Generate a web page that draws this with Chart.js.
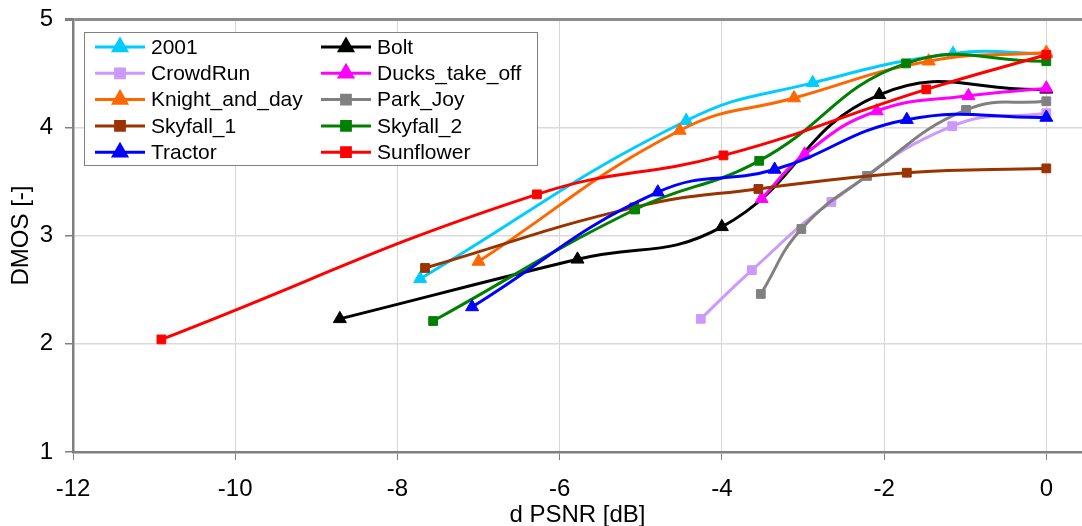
<!DOCTYPE html>
<html>
<head>
<meta charset="utf-8">
<title>DMOS vs d PSNR</title>
<script src="https://cdn.jsdelivr.net/npm/chart.js@4.4.1/dist/chart.umd.min.js"></script>
<style>
  html, body { margin: 0; padding: 0; background: #fff; }
  #wrap { width: 1082px; height: 526px; }
</style>
</head>
<body>
<div id="wrap"><canvas id="grafico" width="1082" height="526"></canvas></div>
<script>
// sequences (legend order)
const nomes = ["2001", "Bolt", "CrowdRun", "Ducks_take_off", "Knight_and_day",
               "Park_Joy", "Skyfall_1", "Skyfall_2", "Tractor", "Sunflower"];
const cores = ["#00ccff", "#000000", "#cc99ff", "#ff00ff", "#ff6600",
               "#808080", "#993300", "#008000", "#0000ff", "#ff0000"];
const marcadores = ["triangle", "triangle", "rect", "triangle", "triangle",
                    "rect", "rect", "rect", "triangle", "rect"];

// d PSNR [dB] per sequence
const psnr2001 = [-7.72, -4.44, -2.88, -1.15, 0];
const psnrBolt = [-8.71, -5.78, -4.0, -2.06, 0];
const psnrCrowdRun = [-4.26, -3.63, -2.65, -1.16, 0];
const psnrDucks = [-3.51, -2.98, -2.09, -0.96, 0];
const psnrKnight = [-7.0, -4.52, -3.11, -1.45, 0];
const psnrParkJoy = [-3.52, -3.02, -2.21, -0.99, 0];
const psnrSkyfall1 = [-7.66, -5.08, -3.55, -1.72, 0];
const psnrSkyfall2 = [-7.56, -5.07, -3.54, -1.73, 0];
const psnrTractor = [-7.08, -4.79, -3.35, -1.72, 0];
const psnrSunflower = [-10.91, -6.28, -3.98, -1.48, 0];

// DMOS per sequence
const dmos2001 = [2.60, 4.06, 4.41, 4.68, 4.68];
const dmosBolt = [2.23, 2.78, 3.08, 4.30, 4.35];
const dmosCrowdRun = [2.23, 2.68, 3.31, 4.01, 4.13];
const dmosDucks = [3.34, 3.75, 4.15, 4.29, 4.36];
const dmosKnight = [2.76, 3.97, 4.27, 4.61, 4.69];
const dmosParkJoy = [2.46, 3.06, 3.55, 4.16, 4.24];
const dmosSkyfall1 = [2.70, 3.26, 3.43, 3.58, 3.62];
const dmosSkyfall2 = [2.21, 3.24, 3.69, 4.59, 4.61];
const dmosTractor = [2.34, 3.40, 3.61, 4.07, 4.09];
const dmosSunflower = [2.04, 3.38, 3.74, 4.35, 4.67];

const eixoX = [-12, -10, -8, -6, -4, -2, 0];
const eixoY = [1, 2, 3, 4, 5];

const todosX = [psnr2001, psnrBolt, psnrCrowdRun, psnrDucks, psnrKnight,
                psnrParkJoy, psnrSkyfall1, psnrSkyfall2, psnrTractor, psnrSunflower];
const todosY = [dmos2001, dmosBolt, dmosCrowdRun, dmosDucks, dmosKnight,
                dmosParkJoy, dmosSkyfall1, dmosSkyfall2, dmosTractor, dmosSunflower];

const fonte = "'Liberation Sans', Arial, sans-serif";

const datasets = nomes.map((nome, i) => ({
    label: nome,
    data: todosX[i].map((x, k) => ({ x: x, y: todosY[i][k] })),
    showLine: true,
    borderColor: cores[i],
    backgroundColor: cores[i],
    borderWidth: 3,
    tension: 0.45,
    pointStyle: marcadores[i],
    pointRadius: marcadores[i] === "triangle" ? 7.5 : 6.2,
    pointBorderWidth: 1,
    // last series on top, like the spreadsheet
    order: nomes.length - i
}));

// two-column legend box in the upper left corner
const legendaCaixa = {
    id: "legendaCaixa",
    afterDraw(chart) {
        const ctx = chart.ctx;
        ctx.save();
        ctx.fillStyle = "#ffffff";
        ctx.fillRect(84.5, 32.5, 453, 133);
        ctx.strokeStyle = "#808080";
        ctx.lineWidth = 1;
        ctx.strokeRect(84.5, 32.5, 453, 133);
        ctx.font = "21px " + fonte;
        ctx.textBaseline = "middle";
        nomes.forEach((nome, i) => {
            const col = i % 2;
            const lin = Math.floor(i / 2);
            const x0 = col === 0 ? 95 : 321;
            const y = 47 + lin * 26.3;
            ctx.strokeStyle = cores[i];
            ctx.lineWidth = 3;
            ctx.beginPath();
            ctx.moveTo(x0, y);
            ctx.lineTo(x0 + 50, y);
            ctx.stroke();
            ctx.fillStyle = cores[i];
            Chart.helpers.drawPoint(ctx, {
                pointStyle: marcadores[i],
                radius: marcadores[i] === "triangle" ? 7.5 : 6.2,
                rotation: 0,
                borderWidth: 1
            }, x0 + 25, y);
            ctx.fillStyle = "#000000";
            ctx.fillText(nome, x0 + 56, y + 1);
        });
        ctx.restore();
    }
};

new Chart(document.getElementById("grafico"), {
    type: "scatter",
    data: { datasets: datasets },
    options: {
        responsive: false,
        animation: false,
        devicePixelRatio: 1,
        layout: {
            autoPadding: false,
            padding: { top: 19, right: 0, left: 0, bottom: 0 }
        },
        plugins: {
            legend: { display: false },
            tooltip: { enabled: false }
        },
        scales: {
            x: {
                type: "linear",
                min: -12,
                max: 0.44,
                afterBuildTicks: (s) => { s.ticks = eixoX.map(v => ({ value: v })); },
                afterFit: (s) => {
                    s.height = 74;
                    s.paddingLeft = 0;
                    s.paddingRight = 0;
                },
                ticks: {
                    color: "#000",
                    font: { family: fonte, size: 24 },
                    padding: 15
                },
                grid: {
                    color: "#d6d6d6",
                    lineWidth: 1,
                    tickColor: "#808080",
                    tickLength: 8
                },
                border: { color: "#7f7f7f", width: 2.5 },
                title: {
                    display: true,
                    text: "d PSNR [dB]",
                    color: "#000",
                    font: { family: fonte, size: 24 },
                    padding: { top: 0, bottom: -4 }
                }
            },
            y: {
                type: "linear",
                min: 1,
                max: 5,
                afterBuildTicks: (s) => { s.ticks = eixoY.map(v => ({ value: v })); },
                afterFit: (s) => {
                    s.width = 73;
                    s.paddingTop = 0;
                    s.paddingBottom = 0;
                },
                ticks: {
                    color: "#000",
                    font: { family: fonte, size: 24 },
                    padding: 12
                },
                grid: {
                    // the y = 5 line doubles as the top frame
                    color: (c) => c.tick && c.tick.value === 5 ? "#8c8c8c" : "#dadada",
                    lineWidth: (c) => c.tick && c.tick.value === 5 ? 3 : 1.5,
                    tickColor: "#808080",
                    tickLength: 8
                },
                border: { color: "#7f7f7f", width: 2.5 },
                title: {
                    display: true,
                    text: "DMOS [-]",
                    color: "#000",
                    font: { family: fonte, size: 24 },
                    padding: { top: 7, bottom: 0 }
                }
            }
        }
    },
    plugins: [legendaCaixa]
});
</script>
</body>
</html>
